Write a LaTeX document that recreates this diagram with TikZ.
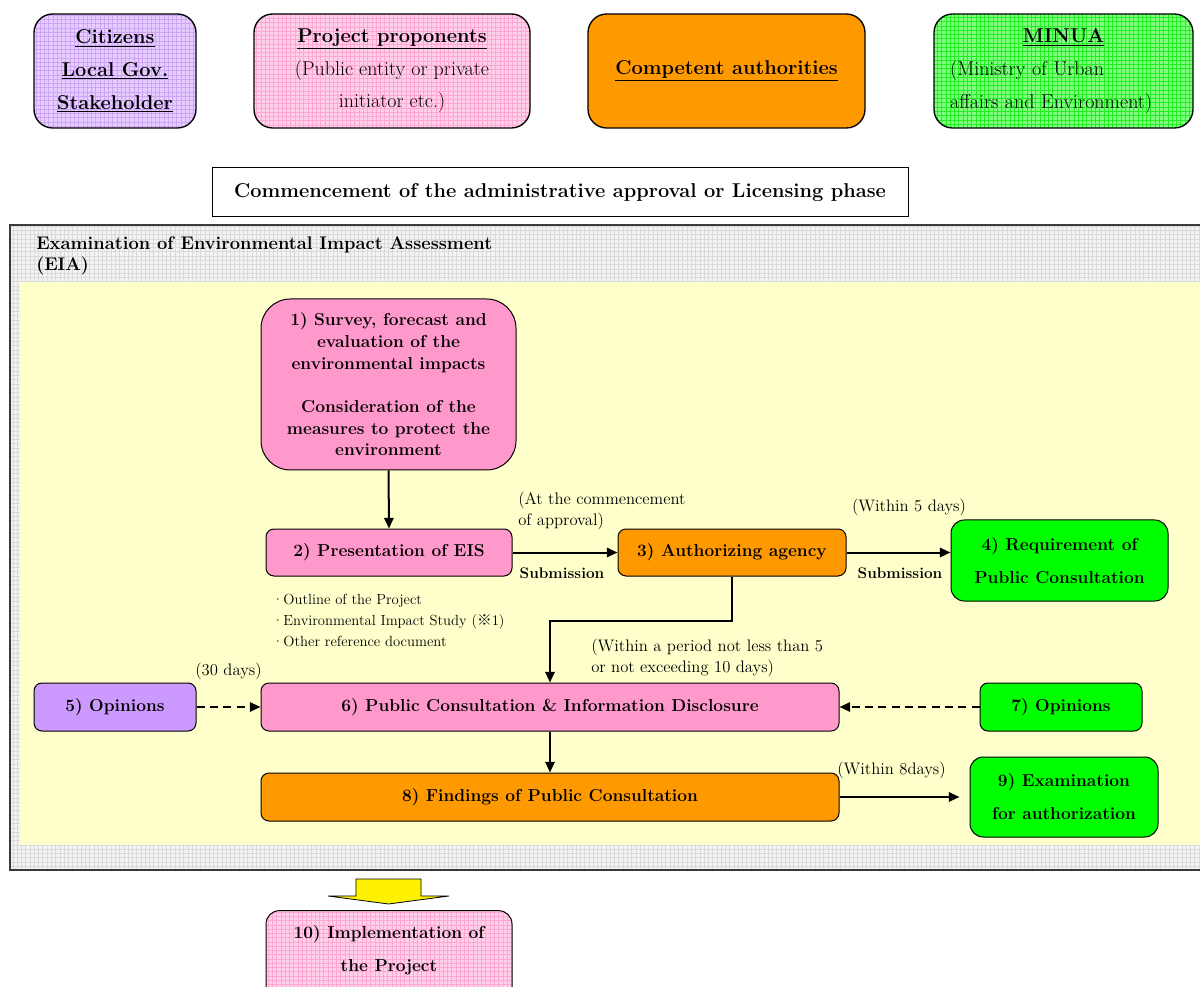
\documentclass[tikz,border=0pt]{standalone}
\usepackage{fontspec}
\newfontfamily\cjk{Noto Sans CJK JP}
\usetikzlibrary{arrows.meta,calc}
\definecolor{purpleBg}{HTML}{E6CCFF}
\definecolor{purpleGrid}{HTML}{CCA6F5}
\definecolor{pinkBg}{HTML}{FFD0EA}
\definecolor{pinkGrid}{HTML}{FFA6D2}
\definecolor{greenBg}{HTML}{80FF80}
\definecolor{greenGrid}{HTML}{22EE22}
\definecolor{greyBg}{HTML}{F3F3F3}
\definecolor{greyGrid}{HTML}{DADADA}
\definecolor{borderGray}{HTML}{3C3C3C}
\definecolor{yellowBg}{HTML}{FFFFCC}
\definecolor{pinkNode}{HTML}{FF99CC}
\definecolor{orangeC}{HTML}{FF9900}
\definecolor{greenC}{HTML}{00FF00}
\definecolor{purpleNode}{HTML}{CC99FF}
\tikzset{
  base/.style={draw=black, line width=0.75pt, align=center, inner sep=0pt},
  gridfill/.style 2 args={fill=#1, path picture={\draw[draw=#2, line width=0.35pt, step=3.2pt]
      (path picture bounding box.south west) grid (path picture bounding box.north east);}},
  topbox/.style={base, rounded corners=14pt, line width=1pt, minimum height=85.5pt,
      font=\fontsize{15}{24.4}\selectfont},
  box/.style={base, rounded corners=6pt, font=\bfseries\fontsize{13}{16.25}\selectfont, minimum height=35.25pt},
  bigbox/.style={base, rounded corners=10pt, font=\bfseries\fontsize{13}{24.75}\selectfont},
  note/.style={font=\fontsize{12.5}{15.75}\selectfont, inner sep=0pt, align=left},
  subm/.style={font=\bfseries\fontsize{11.5}{14}\selectfont, inner sep=0pt},
  arr/.style={line width=1.5pt, -{Triangle[length=8pt,width=7pt]}},
  darr/.style={arr, dash pattern=on 6pt off 4pt},
}
\begin{document}
\begin{tikzpicture}[x=0.75pt,y=-0.75pt]
\useasboundingbox (0,0) rectangle (1200,987);
\fill[white] (0,0) rectangle (1200,987);

% top boxes
\node[topbox, gridfill={purpleBg}{purpleGrid}, minimum width=121.5pt] (cit) at (115,71)
  {\textbf{\underline{Citizens}}\\ \textbf{\underline{Local Gov.}}\\ \textbf{\underline{Stakeholder}}};
\node[topbox, gridfill={pinkBg}{pinkGrid}, minimum width=207pt] (prop) at (392,71)
  {\textbf{\underline{Project proponents}}\\ (Public entity or private\\ initiator etc.)};
\node[topbox, fill=orangeC, minimum width=207.75pt] (comp) at (726.5,71)
  {\textbf{\underline{Competent authorities}}};
\node[topbox, gridfill={greenBg}{greenGrid}, minimum width=194.25pt, text width=170pt, align=left] (minua) at (1063.5,71)
  {\makebox[\linewidth]{\textbf{\underline{MINUA}}}\\ (Ministry of Urban\\ affairs and Environment)};

% commencement
\node[draw=black, line width=0.75pt, fill=white, minimum width=522pt, minimum height=36.75pt, inner sep=0pt,
  font=\bfseries\fontsize{15}{18}\selectfont] (comm) at (560,192.5)
  {Commencement of the administrative approval or Licensing phase};

% EIA frame
\path[draw=borderGray, line width=1.2pt, gridfill={greyBg}{greyGrid}] (10,225) rectangle (1215,870);
\node[anchor=north west, align=left, inner sep=0pt, font=\bfseries\fontsize{13.7}{15.75}\selectfont] (eiatitle)
  at (36,236) {Examination of Environmental Impact Assessment\\(EIA)};
\fill[yellowBg] (20,282) rectangle (1215,845);

% process nodes
\node[box, fill=pinkNode, rounded corners=22pt, minimum width=191.25pt, minimum height=128.25pt] (n1) at (388.5,384.5)
  {1) Survey, forecast and\\ evaluation of the\\ environmental impacts\\[16.25pt] Consideration of the\\ measures to protect the\\ environment};
\node[box, fill=pinkNode, minimum width=184.5pt] (n2) at (389,552.5) {2) Presentation of EIS};
\node[box, fill=orangeC, minimum width=171pt] (n3) at (732,552.5) {3) Authorizing agency};
\node[bigbox, fill=greenC, minimum width=162.75pt, minimum height=60.75pt] (n4) at (1059.5,560.5)
  {4) Requirement of\\ Public Consultation};
\node[box, fill=purpleNode, minimum width=121.5pt, minimum height=36pt] (n5) at (115,707) {5) Opinions};
\node[box, fill=pinkNode, minimum width=433.5pt, minimum height=36pt] (n6) at (550,707)
  {6) Public Consultation \& Information Disclosure};
\node[box, fill=greenC, minimum width=121.5pt, minimum height=36pt] (n7) at (1061,707) {7) Opinions};
\node[box, fill=orangeC, minimum width=433.5pt, minimum height=36pt] (n8) at (550,797)
  {8) Findings of Public Consultation};
\node[bigbox, fill=greenC, minimum width=141pt, minimum height=60pt] (n9) at (1064,797)
  {9) Examination\\ for authorization};
\node[bigbox, gridfill={pinkBg}{pinkGrid}, minimum width=184.5pt, minimum height=71pt] (n10) at (389,958)
  {10) Implementation of\\ the Project\rule[-14pt]{0pt}{14pt}};

% annotations
\node[note, anchor=west] (tCommence) at (518,510.5) {(At the commencement\\ of approval)};
\node[subm] (tSub1) at (562,573) {Submission};
\node[subm] (tSub2) at (900,573) {Submission};
\node[note] (t5days) at (909,507) {(Within 5 days)};
\node[note, anchor=west, font=\fontsize{11}{15.75}\selectfont] (tDocs) at (272,620)
  {·Outline of the Project\\ ·Environmental Impact Study ({\cjk ※}1)\\ ·Other reference document};
\node[note, anchor=west] (tPeriod) at (591,657.5) {(Within a period not less than 5\\ or not exceeding 10 days)};
\node[note] (t30) at (228.5,671) {(30 days)};
\node[note] (t8) at (891.5,770) {(Within 8days)};

% connectors
\draw[arr] (n1.south) -- (n2.north);
\draw[arr] (n2.east) -- (n3.west);
\draw[arr] (n3.east) -- (n3.east -| n4.west);
\coordinate (bend) at (550,621);
\draw[arr] (n3.south) |- (bend) -- (n6.north);
\draw[darr] (n5.east) -- (n6.west);
\draw[darr] (n7.west) -- (n6.east);
\draw[arr] (n6.south) -- (n8.north);
\draw[arr, shorten >=7.5pt] (n8.east) -- (n8.east -| n9.west);

% block arrow to implementation
\draw[fill=yellow, line width=0.6pt] (356,879) -- (421,879) -- (421,896) -- (449,896) -- (388.5,904)
  -- (328,896) -- (356,896) -- cycle;
\end{tikzpicture}
\end{document}
